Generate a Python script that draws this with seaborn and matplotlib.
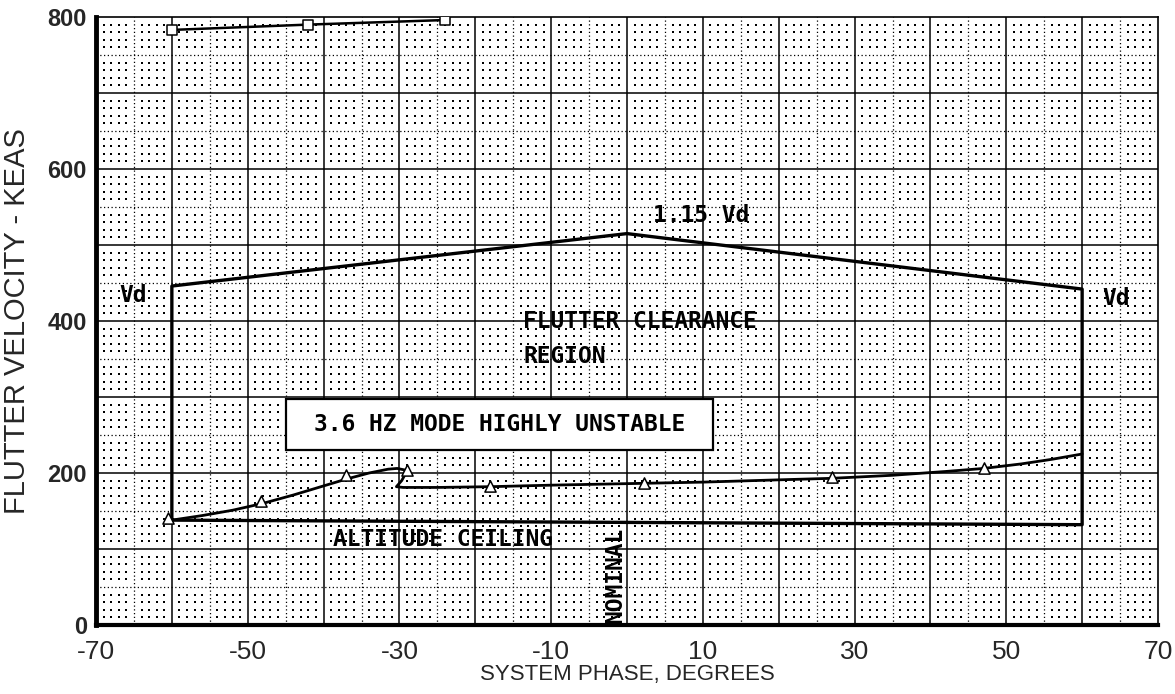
import numpy as np
import pandas as pd
import seaborn as sns
import matplotlib.pyplot as plt
from matplotlib import font_manager
from matplotlib.patches import Rectangle

# envelope of the flutter clearance region (Vd / 1.15 Vd / altitude ceiling)
env_phase = [-60, -60, 0, 60, 60, -60]
env_keas = [138, 446, 515, 442, 132, 138]

# 3.6 Hz mode, traced curve
mode36_phase = [-60, -56, -52, -48, -44, -40, -37, -34, -31.5, -30.3, -29.3, -29.2,
                -29.7, -30.4, -29.5, -25, -18, -10, 0, 10, 20, 27, 35, 42, 47, 52, 56, 60]
mode36_keas = [138, 144, 151, 160, 171, 183, 192, 200, 205, 206, 204, 199,
               190, 182, 181, 181, 182, 184, 186, 188, 191, 193, 197, 202, 206, 212, 218, 225]
# 3.6 Hz mode, computed points
mode36_pts_phase = [-60.5, -48.2, -37, -29, -18, 2.3, 27, 47]
mode36_pts_keas = [141, 163, 197, 204, 183, 187, 195, 207]

# upper mode (square symbols)
upper_phase = [-60, -42, -24]
upper_keas = [783, 790, 796]

xticks = [-70, -50, -30, -10, 10, 30, 50, 70]
yticks = [0, 200, 400, 600, 800]


def pick_font(names, fallback):
    have = {f.name for f in font_manager.fontManager.ttflist}
    for n in names:
        if n in have:
            return n
    return fallback


sns.set_style("white")
plain = pick_font(["Liberation Sans", "Arial"], "DejaVu Sans")
mono = "DejaVu Sans Mono"
plt.rcParams['font.family'] = [plain, 'DejaVu Sans']

fig = plt.figure(figsize=(11.75, 6.94), dpi=100)
ax = fig.add_axes([96 / 1175, 1 - 625 / 694, 1062 / 1175, 608 / 694])

# graph-paper background: dots, dotted half lines, solid major lines
gx = [v for v in range(-70, 71) if v % 5]
gy = [v for v in range(0, 801, 10) if v % 50]
GX, GY = np.meshgrid(gx, gy)
ax.scatter(GX.ravel(), GY.ravel(), s=1.5, c='black', marker='s', linewidths=0, zorder=0)
ax.vlines(np.arange(-65, 70, 10), 0, 800, colors='black', lw=0.9, linestyles=(0, (1, 2)), zorder=0)
ax.hlines(np.arange(50, 800, 100), -70, 70, colors='black', lw=0.9, linestyles=(0, (1, 2)), zorder=0)
ax.vlines(np.arange(-60, 70, 10), 0, 800, colors='black', lw=1.1, zorder=0)
ax.hlines(np.arange(100, 800, 100), -70, 70, colors='black', lw=1.1, zorder=0)

env = pd.DataFrame({'phase': env_phase, 'keas': env_keas})
sns.lineplot(data=env, x='phase', y='keas', sort=False, estimator=None, color='black', lw=2.4, ax=ax, zorder=3)

curve = pd.DataFrame({'phase': mode36_phase, 'keas': mode36_keas})
sns.lineplot(data=curve, x='phase', y='keas', sort=False, estimator=None, color='black', lw=2.0, ax=ax, zorder=3)
sns.scatterplot(x=mode36_pts_phase, y=mode36_pts_keas, marker='^', s=65, facecolor='white',
                edgecolor='black', linewidth=1.1, ax=ax, zorder=4)

upper = pd.DataFrame({'phase': upper_phase, 'keas': upper_keas})
sns.lineplot(data=upper, x='phase', y='keas', sort=False, estimator=None, color='black', lw=1.8, ax=ax, zorder=3)
sns.scatterplot(data=upper, x='phase', y='keas', marker='s', s=50, facecolor='white',
                edgecolor='black', linewidth=1.1, ax=ax, zorder=4)

# annotations
tkw = dict(family=mono, fontweight='bold', fontsize=16.5, color='black', zorder=5)
ax.text(3.4, 539, '1.15 Vd', ha='left', va='center', **tkw)
ax.text(-65.1, 434, 'Vd', ha='center', va='center', **tkw)
ax.text(64.5, 429, 'Vd', ha='center', va='center', **tkw)
ax.text(-13.7, 400, 'FLUTTER CLEARANCE', ha='left', va='center', **tkw)
ax.text(-13.7, 353, 'REGION', ha='left', va='center', **tkw)
ax.text(-38.8, 113, 'ALTITUDE CEILING', ha='left', va='center', **tkw)
ax.text(0, 2, 'NOMINAL', rotation=90, ha='right', va='bottom', **tkw)
ax.add_patch(Rectangle((-45.0, 230), 56.4, 67, fc='white', ec='black', lw=1.6, zorder=5))
ax.text(-16.8, 264, '3.6 HZ MODE HIGHLY UNSTABLE', ha='center', va='center', **{**tkw, 'zorder': 6})

ax.set_xlim(-70, 70)
ax.set_ylim(0, 800)
ax.set_xticks(xticks)
ax.set_yticks(yticks)
ax.set_xticklabels([str(v) for v in xticks], family=plain, fontsize=19)
ax.set_yticklabels([str(v) for v in yticks], family=plain, fontsize=17, fontweight='bold')
ax.tick_params(axis='x', direction='out', length=6, width=1.2, color='black', pad=5)
ax.tick_params(axis='y', direction='out', length=5, width=1.2, color='black', pad=1.5)
ax.set_xlabel('SYSTEM PHASE, DEGREES', family=plain, fontsize=16, labelpad=0)
ax.set_ylabel('FLUTTER VELOCITY - KEAS', family=plain, fontsize=21, labelpad=12)

for side, lw in [('left', 3.5), ('bottom', 3.0), ('top', 1.2), ('right', 1.2)]:
    ax.spines[side].set_visible(True)
    ax.spines[side].set_linewidth(lw)
    ax.spines[side].set_color('black')

fig.savefig('out.png', dpi=100)
